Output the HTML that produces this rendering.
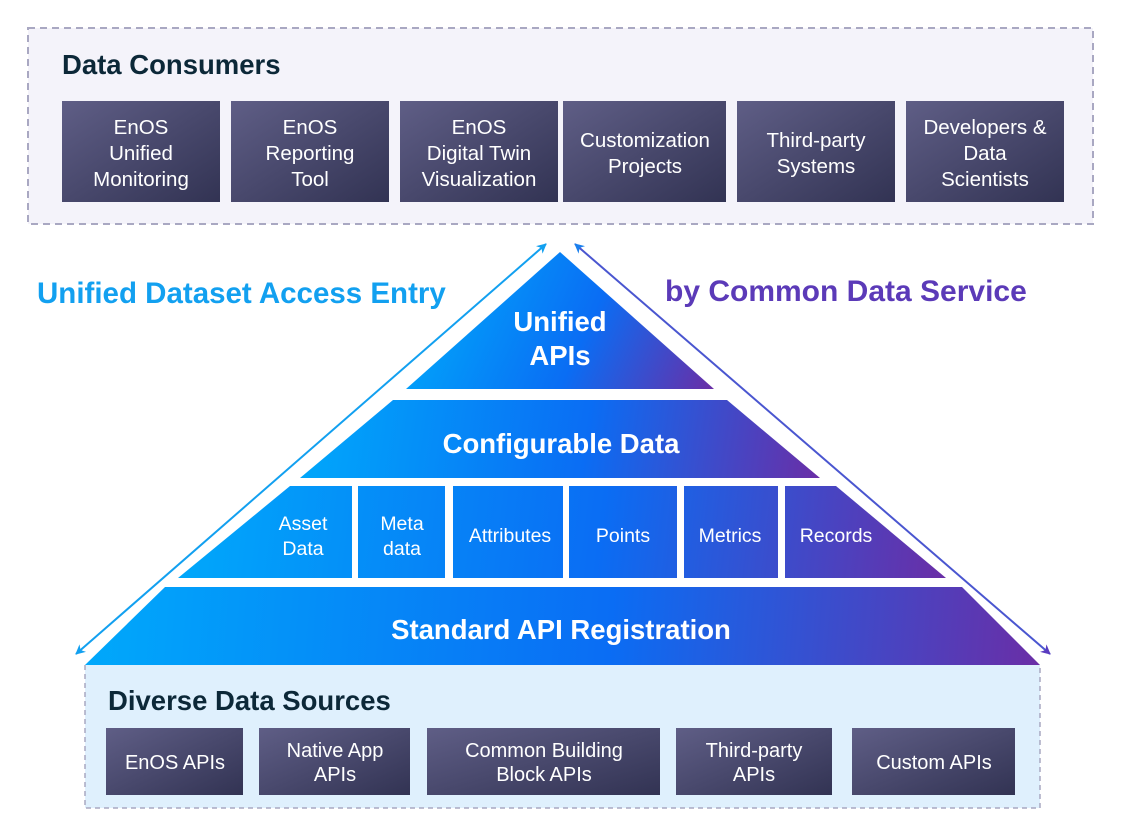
<!DOCTYPE html>
<html><head><meta charset="utf-8"><style>
html,body{margin:0;padding:0;background:#fff;}
svg{display:block;font-family:"Liberation Sans",Arial,sans-serif;}
</style></head><body>
<svg width="1122" height="840" viewBox="0 0 1122 840" xmlns="http://www.w3.org/2000/svg">
<defs>
<linearGradient id="g1" gradientUnits="userSpaceOnUse" x1="430" y1="260" x2="714" y2="389">
<stop offset="0" stop-color="#00a9fb"/><stop offset="0.55" stop-color="#0a6df4"/><stop offset="1" stop-color="#6a2ea6"/>
</linearGradient>
<linearGradient id="g2" gradientUnits="userSpaceOnUse" x1="300" y1="400" x2="820" y2="478">
<stop offset="0" stop-color="#00a9fb"/><stop offset="0.55" stop-color="#0a6df4"/><stop offset="1" stop-color="#6a2ea6"/>
</linearGradient>
<linearGradient id="g3" gradientUnits="userSpaceOnUse" x1="178" y1="486" x2="946" y2="578">
<stop offset="0" stop-color="#00a9fb"/><stop offset="0.55" stop-color="#0a6df4"/><stop offset="1" stop-color="#6a2ea6"/>
</linearGradient>
<linearGradient id="g4" gradientUnits="userSpaceOnUse" x1="85" y1="587" x2="1040" y2="665">
<stop offset="0" stop-color="#00a9fb"/><stop offset="0.55" stop-color="#0a6df4"/><stop offset="1" stop-color="#6a2ea6"/>
</linearGradient>
<linearGradient id="bx" x1="0" y1="0" x2="1" y2="1">
<stop offset="0" stop-color="#5f5e86"/><stop offset="1" stop-color="#323353"/>
</linearGradient>
<marker id="ab" markerWidth="10" markerHeight="10" refX="9" refY="5" orient="auto-start-reverse" markerUnits="userSpaceOnUse"><path d="M0,0 L10,5 L0,10 L3,5z" fill="#12a0f0"/></marker>
<marker id="ap" markerWidth="10" markerHeight="10" refX="9" refY="5" orient="auto-start-reverse" markerUnits="userSpaceOnUse"><path d="M0,0 L10,5 L0,10 L3,5z" fill="#5a3cc0"/></marker>
<marker id="ab2" markerWidth="10" markerHeight="10" refX="9" refY="5" orient="auto-start-reverse" markerUnits="userSpaceOnUse"><path d="M0,0 L10,5 L0,10 L3,5z" fill="#1a80ee"/></marker>
</defs>

<rect x="28" y="28" width="1065" height="196" fill="#f4f3fa" stroke="#a9a8c2" stroke-width="2" stroke-dasharray="7,5"/>
<text x="62" y="74" font-size="27.5" font-weight="bold" fill="#0c2838">Data Consumers</text>
<g fill="url(#bx)">
<rect x="62" y="101" width="158" height="101"/><rect x="231" y="101" width="158" height="101"/>
<rect x="400" y="101" width="158" height="101"/><rect x="563" y="101" width="163" height="101"/>
<rect x="737" y="101" width="158" height="101"/><rect x="906" y="101" width="158" height="101"/>
</g>
<g fill="#fff" font-size="20.5" text-anchor="middle">
<text x="141" y="134">EnOS</text><text x="141" y="160">Unified</text><text x="141" y="186">Monitoring</text>
<text x="310" y="134">EnOS</text><text x="310" y="160">Reporting</text><text x="310" y="186">Tool</text>
<text x="479" y="134">EnOS</text><text x="479" y="160">Digital Twin</text><text x="479" y="186">Visualization</text>
<text x="645" y="147">Customization</text><text x="645" y="173">Projects</text>
<text x="816" y="147">Third-party</text><text x="816" y="173">Systems</text>
<text x="985" y="134">Developers &amp;</text><text x="985" y="160">Data</text><text x="985" y="186">Scientists</text>
</g>

<rect x="85" y="665" width="955" height="143" fill="#dff0fd"/>
<path d="M85,665 V808 H1040 V665" fill="none" stroke="#a9a8c2" stroke-width="1.5" stroke-dasharray="5,4"/>
<text x="108" y="710" font-size="27.5" font-weight="bold" fill="#0c2838">Diverse Data Sources</text>
<g fill="url(#bx)">
<rect x="106" y="728" width="137" height="67"/><rect x="259" y="728" width="151" height="67"/>
<rect x="427" y="728" width="233" height="67"/><rect x="676" y="728" width="156" height="67"/>
<rect x="852" y="728" width="163" height="67"/>
</g>
<g fill="#fff" font-size="20" text-anchor="middle">
<text x="175" y="769">EnOS APIs</text>
<text x="335" y="757">Native App</text><text x="335" y="781">APIs</text>
<text x="544" y="757">Common Building</text><text x="544" y="781">Block APIs</text>
<text x="754" y="757">Third-party</text><text x="754" y="781">APIs</text>
<text x="934" y="769">Custom APIs</text>
</g>

<polygon points="560,252 714,389 406,389" fill="url(#g1)"/>
<polygon points="393,400 727,400 820,478 300,478" fill="url(#g2)"/>
<g fill="url(#g3)">
<polygon points="290,486 352,486 352,578 178,578"/>
<rect x="358" y="486" width="87" height="92"/>
<rect x="453" y="486" width="110" height="92"/>
<rect x="569" y="486" width="108" height="92"/>
<rect x="684" y="486" width="94" height="92"/>
<polygon points="785,486 836,486 946,578 785,578"/>
</g>
<polygon points="165,587 962,587 1040,665 85,665" fill="url(#g4)"/>
<g fill="#fff" text-anchor="middle" font-weight="bold" font-size="27.5">
<text x="560" y="331">Unified</text>
<text x="560" y="365">APIs</text>
<text x="561" y="453">Configurable Data</text>
<text x="561" y="639">Standard API Registration</text>
</g>
<g fill="#fff" text-anchor="middle" font-size="19.5">
<text x="303" y="530">Asset</text><text x="303" y="555">Data</text>
<text x="402" y="530">Meta</text><text x="402" y="555">data</text>
<text x="510" y="542">Attributes</text>
<text x="623" y="542">Points</text>
<text x="730" y="542">Metrics</text>
<text x="836" y="542">Records</text>
</g>

<line x1="546" y1="244" x2="76" y2="654" stroke="#12a0f0" stroke-width="2" marker-start="url(#ab)" marker-end="url(#ab)"/>
<line x1="575" y1="244" x2="1050" y2="654" stroke="#4a56d0" stroke-width="2" marker-start="url(#ab2)" marker-end="url(#ap)"/>

<text x="37" y="303" font-size="29.5" font-weight="bold" fill="#12a0f0">Unified Dataset Access Entry</text>
<text x="665" y="301" font-size="30" font-weight="bold" fill="#5b3ab8">by Common Data Service</text>
</svg>
</body></html>
